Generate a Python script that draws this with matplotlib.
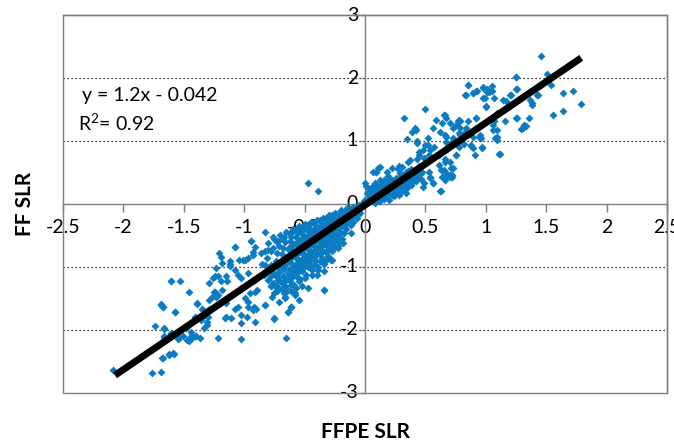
import matplotlib
matplotlib.use("Agg")
import matplotlib.pyplot as plt
from matplotlib.patches import Rectangle
import numpy as np

# ---------------- data ----------------
# sparse upper-right points (FFPE SLR, FF SLR)
upper_sparse = [
    (1.46, 2.35), (1.51, 2.07), (1.54, 1.89), (1.64, 1.76), (1.72, 1.79), (1.79, 1.58),
    (1.56, 1.41), (1.64, 1.48), (1.43, 1.73), (1.38, 1.60), (1.25, 2.01), (1.26, 1.82),
    (1.20, 1.73), (1.25, 1.36), (1.29, 1.19), (1.33, 1.24), (1.16, 1.31), (1.09, 1.45),
    (1.07, 1.31), (1.09, 1.17), (1.08, 1.04), (1.11, 0.79), (1.05, 1.87), (0.975, 1.84),
    (1.01, 1.78), (0.99, 1.68), (1.00, 1.55), (0.92, 1.36), (0.85, 1.89), (0.89, 1.76),
    (0.93, 1.79), (0.83, 1.73), (0.94, 1.07), (0.97, 0.90), (0.88, 0.92), (0.91, 0.78),
    (0.82, 0.96), (0.83, 1.15), (0.79, 1.20), (0.78, 1.33), (0.70, 1.28), (0.66, 1.41),
    (0.64, 1.28), (0.59, 1.33), (0.56, 1.20), (0.62, 1.15), (0.67, 1.07), (0.72, 0.99),
    (0.68, 0.88), (0.75, 0.78), (0.71, 0.57), (0.72, 0.43), (0.64, 0.43), (0.65, 0.54),
    (0.61, 0.62), (0.63, 0.20), (0.56, 0.33), (0.54, 0.41), (0.53, 0.51), (0.50, 1.51),
    (0.32, 1.36), (0.39, 1.15), (0.41, 1.20), (0.42, 1.17), (0.35, 1.03), (0.43, 1.00),
    (0.52, 1.05), (0.50, 0.94), (0.48, 0.86), (0.45, 0.78), (0.49, 0.73), (0.54, 0.86),
    (0.45, 0.59), (0.41, 0.54), (0.37, 0.70), (0.31, 0.59), (0.27, 0.55), (0.48, 0.27),
    (0.11, 0.57), (0.09, 0.50), (0.00, 0.33),
    (1.25, 2.02), (0.85, 1.89), (0.92, 1.79), (0.89, 1.76), (0.84, 1.73), (0.98, 1.85),
    (1.01, 1.82), (1.03, 1.78), (1.05, 1.79), (1.07, 1.68), (0.98, 1.69), (1.00, 1.54),
    (1.14, 1.65), (1.17, 1.63), (1.21, 1.73), (1.25, 1.83), (1.42, 1.73), (1.37, 1.65),
    (0.65, 1.41), (0.67, 1.36), (0.77, 1.32), (0.79, 1.32), (0.85, 1.31), (0.84, 1.20),
    (0.92, 1.37), (0.73, 1.20), (0.75, 1.25), (0.78, 1.12), (0.73, 1.04), (0.79, 1.10),
    (0.89, 1.07), (0.95, 1.10), (0.96, 1.04), (0.88, 0.94), (0.89, 0.89), (0.97, 0.89),
    (1.06, 1.25), (1.06, 1.17), (1.09, 1.07), (1.09, 1.02), (1.12, 0.79), (1.26, 1.36),
    (1.31, 1.20), (1.32, 1.25), (1.36, 1.36), (1.38, 1.57), (0.67, 0.99), (0.68, 0.91),
    (0.66, 1.10), (0.77, 0.99), (0.78, 0.91), (0.75, 0.78), (0.70, 0.67), (0.73, 0.57),
    (0.70, 0.46), (0.66, 0.72), (0.66, 0.51), (0.66, 0.41), (0.72, 0.46), (0.70, 0.43),
    (0.12, 0.59), (0.07, 0.51), (0.09, 0.50), (0.18, 0.51), (0.22, 0.57), (0.28, 0.60),
    (0.29, 0.49), (0.36, 0.67), (0.43, 0.72), (0.45, 0.83), (0.43, 0.97), (0.52, 0.94),
    (0.57, 0.91), (0.53, 0.78), (0.61, 0.78), (0.66, 0.67), (0.63, 0.54), (0.67, 0.49),
    (0.66, 0.38), (0.54, 0.43), (0.56, 0.33), (0.62, 0.20), (0.35, 0.41), (0.42, 0.39),
    (0.38, 0.30), (0.46, 0.49), (0.49, 0.33),
]

# dense band just above the origin
upper_dense = [
    (0.02, 0.02), (0.03, 0.10), (0.02, 0.18), (0.01, 0.29),
    (0.06, 0.05), (0.05, 0.12), (0.07, 0.20), (0.06, 0.27),
    (0.10, 0.08), (0.09, 0.15), (0.11, 0.22), (0.10, 0.30), (0.12, 0.38),
    (0.14, 0.10), (0.15, 0.17), (0.13, 0.24), (0.14, 0.32),
    (0.18, 0.12), (0.17, 0.19), (0.19, 0.27), (0.18, 0.35), (0.19, 0.45),
    (0.22, 0.15), (0.23, 0.22), (0.21, 0.30), (0.22, 0.38),
    (0.26, 0.18), (0.25, 0.26), (0.27, 0.34), (0.26, 0.42),
    (0.30, 0.20), (0.31, 0.28), (0.29, 0.36), (0.30, 0.46),
    (0.34, 0.24), (0.33, 0.32), (0.35, 0.40), (0.34, 0.50),
    (0.38, 0.30), (0.39, 0.38), (0.37, 0.46), (0.38, 0.56),
    (0.42, 0.36), (0.43, 0.44), (0.41, 0.54),
    (0.46, 0.40), (0.47, 0.50), (0.45, 0.60),
    (0.04, 0.07), (0.08, 0.11), (0.12, 0.14), (0.16, 0.22), (0.20, 0.24),
    (0.24, 0.30), (0.28, 0.25), (0.32, 0.37), (0.36, 0.35), (0.40, 0.45),
    (0.16, 0.08), (0.24, 0.12), (0.28, 0.15), (0.34, 0.18), (0.20, 0.07),
    (0.00, 0.06), (-0.03, -0.02), (-0.01, 0.04),
    (0.04, 0.15), (0.04, 0.24), (0.08, 0.02), (0.08, 0.17), (0.08, 0.24), (0.08, 0.33),
    (0.12, 0.05), (0.12, 0.19), (0.12, 0.27), (0.16, 0.14), (0.16, 0.29), (0.16, 0.38),
    (0.20, 0.16), (0.20, 0.32), (0.20, 0.40), (0.24, 0.20), (0.24, 0.36),
    (0.28, 0.32), (0.28, 0.40), (0.32, 0.26), (0.32, 0.44), (0.36, 0.28), (0.36, 0.52),
    (0.40, 0.36), (0.40, 0.50),
]

# dense blob below the origin
lower_dense = [
    (-0.80, -0.62), (-0.81, -0.85), (-0.79, -1.05), (-0.80, -1.20),
    (-0.75, -0.55), (-0.76, -0.70), (-0.74, -0.90), (-0.75, -1.10), (-0.76, -1.25),
    (-0.70, -0.50), (-0.71, -0.66), (-0.69, -0.80), (-0.70, -0.95), (-0.71, -1.08), (-0.70, -1.22), (-0.69, -1.35),
    (-0.65, -0.45), (-0.66, -0.60), (-0.64, -0.72), (-0.65, -0.85), (-0.66, -0.97), (-0.64, -1.10), (-0.65, -1.20), (-0.66, -1.30),
    (-0.60, -0.40), (-0.61, -0.52), (-0.59, -0.63), (-0.60, -0.75), (-0.61, -0.86), (-0.59, -0.98), (-0.60, -1.08), (-0.61, -1.18), (-0.59, -1.28),
    (-0.55, -0.35), (-0.56, -0.46), (-0.54, -0.57), (-0.55, -0.68), (-0.56, -0.79), (-0.54, -0.90), (-0.55, -1.00), (-0.56, -1.10), (-0.54, -1.19),
    (-0.50, -0.32), (-0.51, -0.42), (-0.49, -0.52), (-0.50, -0.62), (-0.51, -0.72), (-0.49, -0.83), (-0.50, -0.93), (-0.51, -1.02), (-0.49, -1.12),
    (-0.45, -0.28), (-0.46, -0.38), (-0.44, -0.47), (-0.45, -0.57), (-0.46, -0.66), (-0.44, -0.76), (-0.45, -0.86), (-0.46, -0.95), (-0.44, -1.05),
    (-0.40, -0.25), (-0.41, -0.34), (-0.39, -0.43), (-0.40, -0.52), (-0.41, -0.61), (-0.39, -0.70), (-0.40, -0.80), (-0.41, -0.90), (-0.39, -1.00),
    (-0.35, -0.22), (-0.36, -0.30), (-0.34, -0.38), (-0.35, -0.46), (-0.36, -0.55), (-0.34, -0.64), (-0.35, -0.74), (-0.36, -0.85), (-0.34, -0.95),
    (-0.30, -0.18), (-0.31, -0.26), (-0.29, -0.34), (-0.30, -0.42), (-0.31, -0.50), (-0.29, -0.60), (-0.30, -0.70), (-0.31, -0.82),
    (-0.25, -0.14), (-0.26, -0.22), (-0.24, -0.30), (-0.25, -0.38), (-0.26, -0.46), (-0.24, -0.56), (-0.25, -0.68),
    (-0.20, -0.10), (-0.21, -0.18), (-0.19, -0.26), (-0.20, -0.34), (-0.21, -0.44), (-0.19, -0.55),
    (-0.15, -0.06), (-0.16, -0.14), (-0.14, -0.22), (-0.15, -0.30), (-0.16, -0.40),
    (-0.10, -0.04), (-0.11, -0.10), (-0.09, -0.18), (-0.10, -0.28),
    (-0.05, -0.02), (-0.06, -0.08), (-0.04, -0.14),
    (-0.72, -0.58), (-0.67, -0.52), (-0.62, -0.46), (-0.57, -0.41), (-0.52, -0.37),
    (-0.47, -0.33), (-0.42, -0.29), (-0.37, -0.26), (-0.32, -0.22), (-0.27, -0.18),
    (-0.62, -0.69), (-0.57, -0.62), (-0.52, -0.57), (-0.47, -0.52), (-0.42, -0.48),
    (-0.37, -0.42), (-0.32, -0.38), (-0.27, -0.34), (-0.22, -0.30), (-0.17, -0.26),
    (-0.62, -0.92), (-0.57, -0.85), (-0.52, -0.78), (-0.47, -0.71), (-0.42, -0.65),
    (-0.37, -0.60), (-0.32, -0.55), (-0.27, -0.50), (-0.22, -0.40), (-0.17, -0.35),
    (-0.67, -1.03), (-0.62, -1.14), (-0.57, -1.05), (-0.52, -0.97), (-0.47, -0.91),
    (-0.42, -0.85), (-0.37, -0.80), (-0.32, -0.76), (-0.27, -0.62), (-0.22, -0.50),
    (-0.12, -0.34), (-0.07, -0.22), (-0.12, -0.46), (-0.18, -0.62), (-0.22, -0.66),
    (-0.83, -0.75), (-0.85, -0.95), (-0.84, -1.12), (-0.78, -1.30), (-0.73, -1.38),
]

# additional fill of the same blob (read between the rows above)
lower_dense_fill = [
    (-0.775, -0.75), (-0.775, -0.97), (-0.775, -1.15),
    (-0.725, -0.60), (-0.725, -0.78), (-0.725, -1.00), (-0.725, -1.16), (-0.725, -1.30),
    (-0.675, -0.55), (-0.675, -0.70), (-0.675, -0.88), (-0.675, -1.02), (-0.675, -1.15), (-0.675, -1.25),
    (-0.625, -0.48), (-0.625, -0.58), (-0.625, -0.69), (-0.625, -0.80), (-0.625, -0.92), (-0.625, -1.03), (-0.625, -1.13), (-0.625, -1.23),
    (-0.575, -0.43), (-0.575, -0.52), (-0.575, -0.63), (-0.575, -0.74), (-0.575, -0.84), (-0.575, -0.95), (-0.575, -1.05), (-0.575, -1.15),
    (-0.525, -0.38), (-0.525, -0.47), (-0.525, -0.58), (-0.525, -0.67), (-0.525, -0.77), (-0.525, -0.88), (-0.525, -0.98), (-0.525, -1.07),
    (-0.475, -0.34), (-0.475, -0.43), (-0.475, -0.52), (-0.475, -0.61), (-0.475, -0.71), (-0.475, -0.81), (-0.475, -0.90), (-0.475, -1.00),
    (-0.425, -0.30), (-0.425, -0.39), (-0.425, -0.48), (-0.425, -0.57), (-0.425, -0.66), (-0.425, -0.75), (-0.425, -0.85), (-0.425, -0.95),
    (-0.375, -0.27), (-0.375, -0.35), (-0.375, -0.43), (-0.375, -0.51), (-0.375, -0.60), (-0.375, -0.69), (-0.375, -0.79), (-0.375, -0.90),
    (-0.325, -0.23), (-0.325, -0.31), (-0.325, -0.39), (-0.325, -0.47), (-0.325, -0.55), (-0.325, -0.65), (-0.325, -0.76),
    (-0.275, -0.20), (-0.275, -0.28), (-0.275, -0.36), (-0.275, -0.44), (-0.275, -0.52), (-0.275, -0.62), (-0.275, -0.74),
    (-0.225, -0.16), (-0.225, -0.24), (-0.225, -0.32), (-0.225, -0.40), (-0.225, -0.50), (-0.225, -0.60),
    (-0.175, -0.12), (-0.175, -0.20), (-0.175, -0.28), (-0.175, -0.36), (-0.175, -0.46),
    (-0.125, -0.08), (-0.125, -0.15), (-0.125, -0.23), (-0.125, -0.32),
    (-0.075, -0.05), (-0.075, -0.11), (-0.075, -0.18),
]

# sparse lower-left points
lower_sparse = [
    (-2.09, -2.63), (-1.76, -2.69), (-1.69, -2.67), (-1.68, -2.45), (-1.62, -2.38),
    (-1.59, -2.37), (-1.74, -1.94), (-1.66, -1.97), (-1.69, -1.60), (-1.67, -1.64),
    (-1.57, -1.72), (-1.61, -1.22), (-1.53, -1.22), (-1.46, -1.39), (-1.66, -2.10),
    (-1.61, -2.05), (-1.55, -2.15), (-1.47, -2.16), (-1.44, -2.10), (-1.41, -2.10),
    (-1.39, -1.58), (-1.35, -1.66), (-1.30, -1.69), (-1.41, -1.79), (-1.36, -1.84),
    (-1.31, -1.92), (-1.22, -2.12), (-1.21, -0.78), (-1.18, -0.93), (-1.22, -1.15),
    (-1.24, -1.15), (-1.14, -1.22), (-1.12, -0.98), (-1.08, -0.69), (-1.075, -1.05),
    (-1.24, -1.39), (-1.27, -1.47), (-1.23, -1.47), (-1.18, -1.37), (-1.16, -1.81),
    (-1.11, -1.81), (-1.025, -2.15), (-1.025, -1.89), (-1.05, -1.63), (-0.98, -1.79),
    (-0.91, -1.87), (-0.97, -1.64), (-0.92, -1.64), (-0.75, -1.83), (-0.65, -2.13),
    (-0.64, -1.71), (-0.61, -1.63), (-0.55, -1.52), (-0.67, -1.42), (-0.34, -1.37),
    (-0.36, -0.89), (-0.32, -0.89), (-0.28, -0.89), (-0.22, -0.70), (-1.025, -1.18),
    (-0.99, -1.31), (-0.95, -1.42), (-0.89, -1.37), (-0.91, -1.21), (-0.97, -1.10),
    (-1.01, -0.89), (-1.04, -0.89), (-0.93, -0.81), (-0.94, -0.59), (-0.83, -0.44),
    (-0.76, -0.52), (-0.80, -0.73), (-0.86, -0.78), (-0.83, -0.97), (-0.78, -1.07),
    (-0.72, -1.21), (-0.67, -1.31), (-0.83, -1.60), (-0.58, -1.42), (-0.78, -1.31),
    (-0.94, -0.59), (-1.08, -0.69), (-0.91, -0.68), (-0.93, -0.76), (-1.19, -0.84),
    (-1.12, -0.91), (-1.12, -0.96), (-1.23, -1.02), (-0.99, -0.89), (-0.97, -0.86),
    (-1.26, -1.18), (-1.29, -1.26), (-1.19, -1.23), (-1.15, -1.15), (-1.05, -1.13),
    (-1.25, -1.39), (-1.22, -1.44), (-1.15, -1.58), (-1.03, -1.34), (-0.99, -1.50),
    (-0.97, -1.55), (-0.91, -1.39), (-1.08, -1.66), (-1.15, -1.79), (-1.03, -1.76),
    (-0.93, -1.68), (-0.90, -1.66), (-0.83, -1.60), (-0.77, -1.47), (-0.75, -1.42),
    (-0.71, -1.55), (-0.66, -1.50), (-0.61, -1.63), (-0.65, -1.34),
    (-1.61, -1.23), (-1.69, -1.59), (-1.67, -1.63), (-1.57, -1.72), (-1.66, -1.98),
    (-1.61, -2.07), (-1.66, -2.11), (-1.67, -2.45), (-1.62, -2.40), (-1.58, -2.38),
    (-1.54, -2.13), (-1.51, -2.10), (-1.46, -2.17), (-1.43, -2.13), (-1.40, -2.10),
    (-1.37, -2.12), (-1.39, -1.59), (-1.34, -1.68), (-1.31, -1.72), (-1.35, -1.81),
    (-1.31, -1.87), (-1.48, -1.97), (-1.44, -2.03), (-1.33, -1.97), (-1.29, -1.52),
    (-1.28, -1.66), (-1.30, -1.79),
    (-0.275, -0.89), (-0.33, -0.905), (-0.34, -1.36), (-0.39, -1.05), (-0.34, -1.07),
    (-0.44, -1.00), (-0.50, -1.18), (-0.525, -1.31), (-0.57, -1.34), (-0.61, -1.38),
    (-0.65, -1.40), (-0.66, -1.47), (-0.61, -1.63), (-0.64, -1.71), (-0.75, -1.81),
    (-0.61, -1.29), (-0.55, -1.23), (-0.47, -1.34), (-0.58, -1.45), (-0.73, -1.34),
    (-0.44, -1.13), (-0.40, -1.13),
    (-0.47, 0.33), (-0.39, 0.20),
]

# regression line as drawn (end points)
fit_x = [-2.07, 1.79]
fit_y = [-2.72, 2.32]

equation_text = "y = 1.2x - 0.042"
r2_text = "R$^{2}$= 0.92"
x_ticks = [-2.5, -2, -1.5, -1, -0.5, 0, 0.5, 1, 1.5, 2, 2.5]
x_ticklabels = ["-2.5", "-2", "-1.5", "-1", "-0.5", "0", "0.5", "1", "1.5", "2", "2.5"]
y_ticks = [-3, -2, -1, 0, 1, 2, 3]
y_ticklabels = ["-3", "-2", "-1", "0", "1", "2", "3"]
x_label = "FFPE SLR"
y_label = "FF SLR"

# ---------------- plot ----------------
plt.rcParams["font.family"] = ["Lato", "DejaVu Sans"]
plt.rcParams["mathtext.fontset"] = "custom"
plt.rcParams["mathtext.rm"] = "Lato"
fig = plt.figure(figsize=(6.74, 4.42), dpi=100)
ax = fig.add_axes([0.0935, 0.111, 0.8961, 0.855])
ax.set_xlim(-2.5, 2.5)
ax.set_ylim(-3, 3)

pts = np.array(upper_sparse + upper_dense + lower_dense + lower_dense_fill + lower_sparse)
ax.scatter(pts[:, 0], pts[:, 1], marker="D", s=16, color="#0b7bc2",
           linewidths=0, zorder=3)

ax.plot(fit_x, fit_y, color="black", lw=5.0, solid_capstyle="butt", zorder=4)

# dotted horizontal gridlines
for yv in [-2, -1, 1, 2]:
    ax.axhline(yv, color="black", lw=0.9, ls=(0, (1, 2.2)), zorder=1)

# center spines
grey = "#7f7f7f"
for s in ["top", "right"]:
    ax.spines[s].set_color(grey)
    ax.spines[s].set_linewidth(1.0)
ax.spines["left"].set_position(("data", 0))
ax.spines["bottom"].set_position(("data", 0))
ax.spines["left"].set_color(grey)
ax.spines["bottom"].set_color(grey)
ax.spines["left"].set_linewidth(1.0)
ax.spines["bottom"].set_linewidth(1.0)
ax.add_patch(Rectangle((0, 0), 1, 1, transform=ax.transAxes, fill=False,
                       edgecolor=grey, lw=1.0, clip_on=False, zorder=5))

ax.set_xticks(x_ticks)
ax.set_xticklabels(x_ticklabels)
ax.set_yticks(y_ticks)
ax.set_yticklabels(y_ticklabels)
ax.tick_params(axis="x", direction="out", length=6, width=1, color=grey,
               labelsize=14, pad=5)
ax.tick_params(axis="y", direction="out", length=3, width=1, color=grey,
               labelsize=14, pad=2)
for lab in ax.get_yticklabels():
    lab.set_verticalalignment("center")

ax.text(0.031, 0.786, equation_text, transform=ax.transAxes, fontsize=14,
        ha="left", va="center")
ax.text(0.025, 0.716, r2_text, transform=ax.transAxes, fontsize=14,
        ha="left", va="center")

fig.text(0.037, 0.538, y_label, rotation=90, fontsize=15, fontweight="bold",
         ha="center", va="center")
fig.text(0.542, 0.022, x_label, fontsize=15, fontweight="bold",
         ha="center", va="center")

fig.savefig("out.png", dpi=100)
